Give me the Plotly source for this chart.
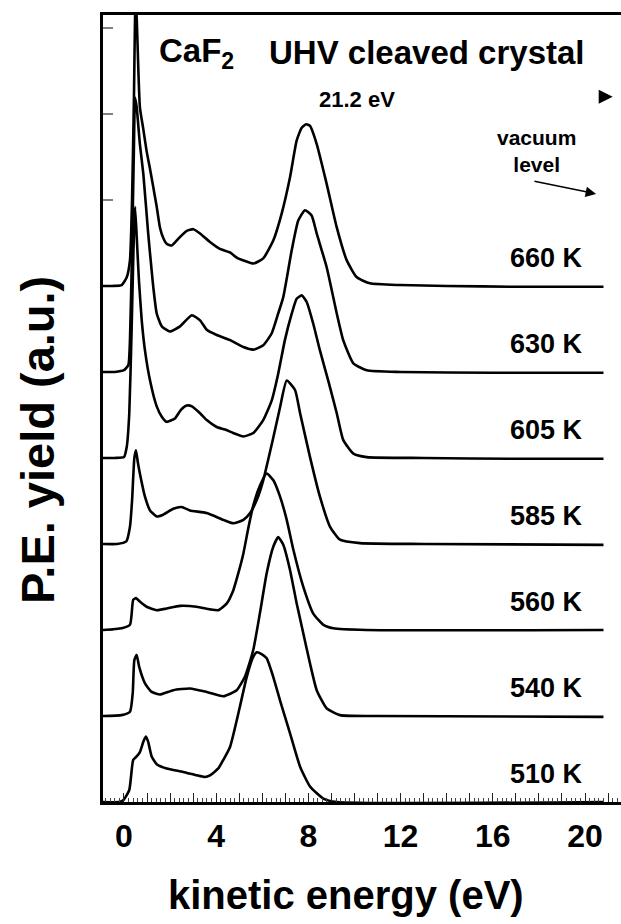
import plotly.graph_objects as go

# Photoelectron spectra of a UHV-cleaved CaF2 crystal (21.2 eV excitation),
# each temperature stacked on its own integer offset.
temperatures = ["660 K", "630 K", "605 K", "585 K", "560 K", "540 K", "510 K"]
offsets = [6, 5, 4, 3, 2, 1, 0]

e_660 = [-0.91, -0.5, -0.1, 0.12, 0.26, 0.35, 0.43, 0.50, 0.55, 0.69, 0.84, 0.98, 1.13, 1.27,
         1.42, 1.56, 1.70, 1.85, 2.07, 2.36, 2.72, 3.01, 3.30, 3.73, 4.16, 4.60, 4.89, 5.25,
         5.61, 6.04, 6.48, 6.84, 7.20, 7.49, 7.71, 7.90, 8.07, 8.36, 8.79, 9.23, 9.66, 10.10,
         10.67, 11.97, 14.0, 17.0, 20.8]
y_660 = [0.0, 0.0, 0.01, 0.10, 0.30, 1.00, 2.15, 3.30, 3.12, 2.08, 1.82, 1.57, 1.36, 1.15,
         0.92, 0.68, 0.56, 0.49, 0.47, 0.55, 0.64, 0.66, 0.61, 0.51, 0.43, 0.39, 0.33, 0.29,
         0.26, 0.32, 0.53, 0.84, 1.26, 1.69, 1.84, 1.88, 1.86, 1.65, 1.19, 0.68, 0.30, 0.10,
         0.03, 0.01, 0.0, -0.01, -0.01]

e_630 = [-0.91, -0.4, 0.0, 0.19, 0.26, 0.35, 0.43, 0.48, 0.55, 0.69, 0.84, 1.05, 1.20, 1.27,
         1.42, 1.64, 2.00, 2.43, 2.94, 3.30, 3.59, 4.02, 4.60, 5.18, 5.61, 6.04, 6.41, 6.69,
         6.91, 7.28, 7.56, 7.85, 8.14, 8.36, 8.79, 9.23, 9.51, 9.95, 10.53, 12.0, 16.0, 20.8]
y_630 = [0.0, 0.0, 0.02, 0.08, 0.37, 1.42, 2.58, 3.19, 3.08, 2.65, 2.30, 1.61, 1.18, 0.99,
         0.68, 0.53, 0.47, 0.53, 0.66, 0.60, 0.49, 0.43, 0.37, 0.29, 0.26, 0.31, 0.45, 0.68,
         0.87, 1.42, 1.76, 1.88, 1.82, 1.61, 1.22, 0.68, 0.37, 0.10, 0.02, 0.0, -0.01, -0.01]

e_605 = [-0.91, -0.4, 0.0, 0.12, 0.23, 0.33, 0.41, 0.48, 0.56, 0.65, 0.77, 0.91, 1.13, 1.42,
         1.64, 1.85, 2.21, 2.47, 2.72, 2.95, 3.30, 3.59, 4.02, 4.38, 4.74, 5.18, 5.61, 6.04,
         6.41, 6.69, 6.98, 7.28, 7.49, 7.71, 7.93, 8.21, 8.50, 8.86, 9.23, 9.51, 9.95, 10.53,
         13.0, 17.0, 20.8]
y_605 = [0.0, 0.0, 0.01, 0.13, 0.52, 1.48, 2.40, 2.92, 2.53, 2.06, 1.60, 1.25, 0.90, 0.60,
         0.48, 0.42, 0.46, 0.56, 0.61, 0.60, 0.52, 0.44, 0.36, 0.33, 0.29, 0.25, 0.29, 0.44,
         0.67, 0.98, 1.37, 1.68, 1.85, 1.89, 1.81, 1.56, 1.25, 0.90, 0.52, 0.21, 0.05, 0.01,
         0.0, -0.01, -0.01]

e_585 = [-0.91, -0.3, 0.1, 0.26, 0.35, 0.45, 0.52, 0.60, 0.69, 0.91, 1.13, 1.42, 1.70, 2.14,
         2.50, 2.86, 3.59, 4.31, 4.74, 5.18, 5.47, 5.76, 6.04, 6.48, 6.77, 7.06, 7.42, 7.64,
         8.07, 8.50, 8.94, 9.37, 10.24, 13.0, 20.8]
y_585 = [0.0, 0.0, 0.03, 0.20, 0.50, 1.00, 1.09, 0.95, 0.82, 0.55, 0.39, 0.32, 0.34, 0.41,
         0.43, 0.39, 0.36, 0.28, 0.24, 0.28, 0.36, 0.51, 0.74, 1.24, 1.59, 1.90, 1.79, 1.52,
         1.01, 0.55, 0.20, 0.05, 0.01, 0.0, -0.01]

e_560 = [-0.91, -0.1, 0.26, 0.40, 0.52, 0.69, 0.98, 1.42, 1.85, 2.43, 3.15, 3.73, 4.09, 4.46,
         4.74, 4.96, 5.18, 5.39, 5.61, 5.90, 6.19, 6.48, 6.77, 7.06, 7.35, 7.78, 8.21, 8.65,
         9.08, 10.5, 20.8]
y_560 = [0.0, 0.02, 0.06, 0.35, 0.37, 0.33, 0.27, 0.23, 0.25, 0.28, 0.27, 0.24, 0.23, 0.31,
         0.46, 0.66, 0.89, 1.18, 1.45, 1.68, 1.82, 1.74, 1.55, 1.28, 0.93, 0.50, 0.19, 0.06,
         0.02, 0.0, 0.0]

e_540 = [-0.91, -0.1, 0.26, 0.38, 0.45, 0.55, 0.66, 0.91, 1.20, 1.56, 2.14, 2.86, 3.59, 4.31,
         4.89, 5.25, 5.61, 5.90, 6.19, 6.48, 6.69, 6.91, 7.20, 7.49, 7.78, 8.07, 8.36, 8.79,
         9.37, 11.0, 20.8]
y_540 = [0.0, 0.01, 0.05, 0.27, 0.65, 0.71, 0.57, 0.38, 0.28, 0.25, 0.30, 0.32, 0.28, 0.23,
         0.30, 0.46, 0.77, 1.20, 1.66, 1.97, 2.08, 1.99, 1.70, 1.31, 0.96, 0.61, 0.30, 0.09,
         0.01, 0.0, -0.01]

e_510 = [-0.91, -0.2, -0.03, 0.23, 0.40, 0.55, 0.69, 0.84, 0.95, 1.05, 1.20, 1.42, 1.85, 2.57,
         3.15, 3.51, 3.73, 4.09, 4.31, 4.60, 5.03, 5.32, 5.61, 5.76, 5.97, 6.19, 6.48, 6.77,
         7.20, 7.64, 8.07, 8.65, 9.23, 20.8]
y_510 = [0.0, 0.0, 0.02, 0.14, 0.49, 0.53, 0.58, 0.70, 0.76, 0.70, 0.53, 0.44, 0.39, 0.35,
         0.31, 0.29, 0.31, 0.39, 0.49, 0.64, 1.11, 1.45, 1.69, 1.74, 1.72, 1.67, 1.45, 1.18,
         0.80, 0.41, 0.18, 0.04, 0.0, 0.0]

energies = [e_660, e_630, e_605, e_585, e_560, e_540, e_510]
yields = [y_660, y_630, y_605, y_585, y_560, y_540, y_510]

x_label_values = [0, 4, 8, 12, 16, 20]
x_label_text = ["0", "4", "8", "12", "16", "20"]

FONT = "Liberation Sans, Arial, Helvetica, sans-serif"
X_RANGE = [-0.91, 21.56]
Y_RANGE = [0.0, 9.15]

fig = go.Figure()

for label, off, ex, yy in zip(temperatures, offsets, energies, yields):
    fig.add_trace(go.Scatter(
        x=ex, y=[off + v for v in yy], mode="lines", name=label,
        line=dict(color="black", width=2.6, shape="spline", smoothing=0.5),
        hoverinfo="skip", showlegend=False,
    ))

    # temperature tag above each baseline, right-aligned near 20 eV
    fig.add_annotation(
        x=20.0, y=off + 0.33, xref="x", yref="y", text=label, showarrow=False,
        xanchor="right", yanchor="middle",
        font=dict(family=FONT, size=27, color="black", weight="bold"),
    )

# header texts
fig.add_annotation(x=0.104, y=0.952, xref="paper", yref="paper", text="CaF<sub>2</sub>",
                   showarrow=False, xanchor="left", yanchor="middle",
                   font=dict(family=FONT, size=33, color="black", weight="bold"))
fig.add_annotation(x=0.3166, y=0.952, xref="paper", yref="paper", text="UHV cleaved crystal",
                   showarrow=False, xanchor="left", yanchor="middle",
                   font=dict(family=FONT, size=33, color="black", weight="bold"))
fig.add_annotation(x=(357 - 103) / 518, y=(802 - 100) / 787, xref="paper", yref="paper",
                   text="21.2 eV", showarrow=False, xanchor="center", yanchor="middle",
                   font=dict(family=FONT, size=22, color="black", weight="bold"))
fig.add_annotation(x=(536 - 103) / 518, y=(802 - 151) / 787, xref="paper", yref="paper",
                   text="vacuum<br>level", showarrow=False, xanchor="center", yanchor="middle",
                   font=dict(family=FONT, size=21, color="black", weight="bold"))

# photon-energy marker and vacuum-level arrow
fig.add_annotation(x=21.2, y=8.2, ax=20.9, ay=8.2, xref="x", yref="y", axref="x", ayref="y",
                   text="", showarrow=True, arrowhead=2, arrowsize=1.4, arrowwidth=2,
                   arrowcolor="black")
fig.add_annotation(x=20.48, y=7.07, ax=17.74, ay=7.22, xref="x", yref="y", axref="x", ayref="y",
                   text="", showarrow=True, arrowhead=2, arrowsize=1.4, arrowwidth=1.5,
                   arrowcolor="black")

# axis titles
fig.add_annotation(x=-0.1255, y=0.46, xref="paper", yref="paper", text="P.E. yield (a.u.)",
                   textangle=-90, showarrow=False, xanchor="center", yanchor="middle",
                   font=dict(family=FONT, size=47, color="black", weight="bold"))
fig.add_annotation(x=0.469, y=-0.118, xref="paper", yref="paper", text="kinetic energy (eV)",
                   showarrow=False, xanchor="center", yanchor="middle",
                   font=dict(family=FONT, size=40, color="black", weight="bold"))

# main x axis: frame, 1 eV major ticks and 0.2 eV minor ticks
fig.update_xaxes(
    range=X_RANGE, showgrid=False, zeroline=False,
    showline=True, linecolor="black", linewidth=3, mirror=True,
    ticks="inside", ticklen=9, tickwidth=1, tickcolor="#222",
    tickmode="linear", tick0=0, dtick=1, showticklabels=False,
    minor=dict(tickmode="linear", tick0=0, dtick=0.2, ticks="inside", ticklen=4,
               tickwidth=1, tickcolor="#444", showgrid=False),
)

# overlay axis carrying only the numeric labels every 4 eV
fig.update_layout(xaxis2=dict(
    overlaying="x", anchor="y", side="bottom", range=X_RANGE,
    showgrid=False, zeroline=False, showline=False, ticks="",
    tickmode="array", tickvals=x_label_values, ticktext=x_label_text,
    ticklabelstandoff=12,
    tickfont=dict(family=FONT, size=32, color="black", weight="bold"),
))
fig.add_trace(go.Scatter(x=[X_RANGE[0]], y=[None], xaxis="x2", yaxis="y",
                         mode="lines", showlegend=False, hoverinfo="skip"))

fig.update_yaxes(
    range=Y_RANGE, showgrid=False, zeroline=False,
    showline=True, linecolor="black", linewidth=3, mirror=False,
    ticks="inside", ticklen=10, tickwidth=1.5, tickcolor="#808080",
    tickmode="linear", tick0=0, dtick=1, showticklabels=False,
    layer="below traces",
)

fig.update_layout(
    width=621, height=924,
    margin=dict(l=103, r=0, t=15, b=122),
    paper_bgcolor="white", plot_bgcolor="white",
)

fig.write_html("out.html")
